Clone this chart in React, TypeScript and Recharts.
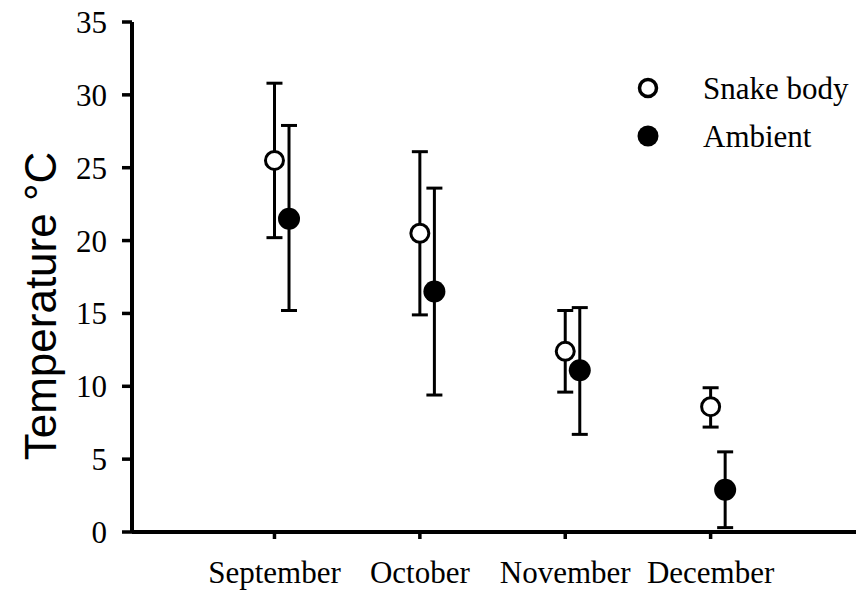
import { ScatterChart, Scatter, XAxis, YAxis, ErrorBar } from 'recharts';

const months = ['September', 'October', 'November', 'December'];
const snakeMean = [25.5, 20.5, 12.4, 8.6];
const snakeHigh = [30.8, 26.1, 15.2, 9.9];
const snakeLow = [20.2, 14.9, 9.6, 7.2];
const ambientMean = [21.5, 16.5, 11.1, 2.9];
const ambientHigh = [27.9, 23.6, 15.4, 5.5];
const ambientLow = [15.2, 9.4, 6.7, 0.3];
const yTicks = [0, 5, 10, 15, 20, 25, 30, 35];
const xTicks = [1, 2, 3, 4];
const ambientShift = 0.1;

const snakeData = months.map((m, i) => ({
  x: i + 1,
  y: snakeMean[i],
  err: [snakeMean[i] - snakeLow[i], snakeHigh[i] - snakeMean[i]],
}));
const ambientData = months.map((m, i) => ({
  x: i + 1 + ambientShift,
  y: ambientMean[i],
  err: [ambientMean[i] - ambientLow[i], ambientHigh[i] - ambientMean[i]],
}));

const serif = '"Liberation Serif", "Times New Roman", serif';

const OpenDot = (p: any) => <circle cx={p.cx} cy={p.cy} r={9} fill="#fff" stroke="#000" strokeWidth={3} />;
const FilledDot = (p: any) => <circle cx={p.cx} cy={p.cy} r={11} fill="#000" />;

const YLabel = () => (
  <text
    x={40}
    y={306}
    transform="rotate(-90, 40, 306)"
    textAnchor="middle"
    dominantBaseline="central"
    fontFamily='"Liberation Sans", Arial, sans-serif'
    fontSize={44}
    fill="#000"
  >
    Temperature °C
  </text>
);

// legend drawn on top of the chart, top right
const LegendBox = () => (
  <svg width={220} height={100} style={{ position: 'absolute', left: 636, top: 66 }}>
    <circle cx={12} cy={22} r={8.5} fill="#fff" stroke="#000" strokeWidth={3.5} />
    <text x={67} y={22} dominantBaseline="central" fontFamily={serif} fontSize={31} fill="#000">
      Snake body
    </text>
    <circle cx={12} cy={70} r={10.5} fill="#000" />
    <text x={67} y={70} dominantBaseline="central" fontFamily={serif} fontSize={31} fill="#000">
      Ambient
    </text>
  </svg>
);

export default function App() {
  return (
    <div style={{ position: 'absolute', left: 0, top: 0, width: 856, height: 591, background: '#fff' }}>
      <ScatterChart width={856} height={591} margin={{ top: 22, right: 0, bottom: 0, left: 0 }}>
        <XAxis
          type="number"
          dataKey="x"
          domain={[0.02, 5]}
          ticks={xTicks}
          tickFormatter={(v: number) => months[v - 1] ?? ''}
          allowDataOverflow
          height={59}
          axisLine={{ stroke: '#000', strokeWidth: 4 }}
          tickLine={{ stroke: '#000', strokeWidth: 3.5 }}
          tickSize={7}
          tickMargin={22}
          tick={{ fill: '#000', fontFamily: serif, fontSize: 31 }}
          interval={0}
        />
        <YAxis
          type="number"
          dataKey="y"
          domain={[0, 35]}
          ticks={yTicks}
          width={132}
          axisLine={{ stroke: '#000', strokeWidth: 4 }}
          tickLine={{ stroke: '#000', strokeWidth: 3.5 }}
          tickSize={10}
          tickMargin={15}
          tick={{ fill: '#000', fontFamily: serif, fontSize: 31 }}
          interval={0}
          label={<YLabel />}
        />
        <Scatter name="Snake body" data={snakeData} shape={OpenDot} isAnimationActive={false}>
          <ErrorBar dataKey="err" direction="y" width={8} stroke="#000" strokeWidth={3} />
        </Scatter>
        <Scatter name="Ambient" data={ambientData} shape={FilledDot} isAnimationActive={false}>
          <ErrorBar dataKey="err" direction="y" width={8} stroke="#000" strokeWidth={3} />
        </Scatter>
      </ScatterChart>
      <LegendBox />
    </div>
  );
}
